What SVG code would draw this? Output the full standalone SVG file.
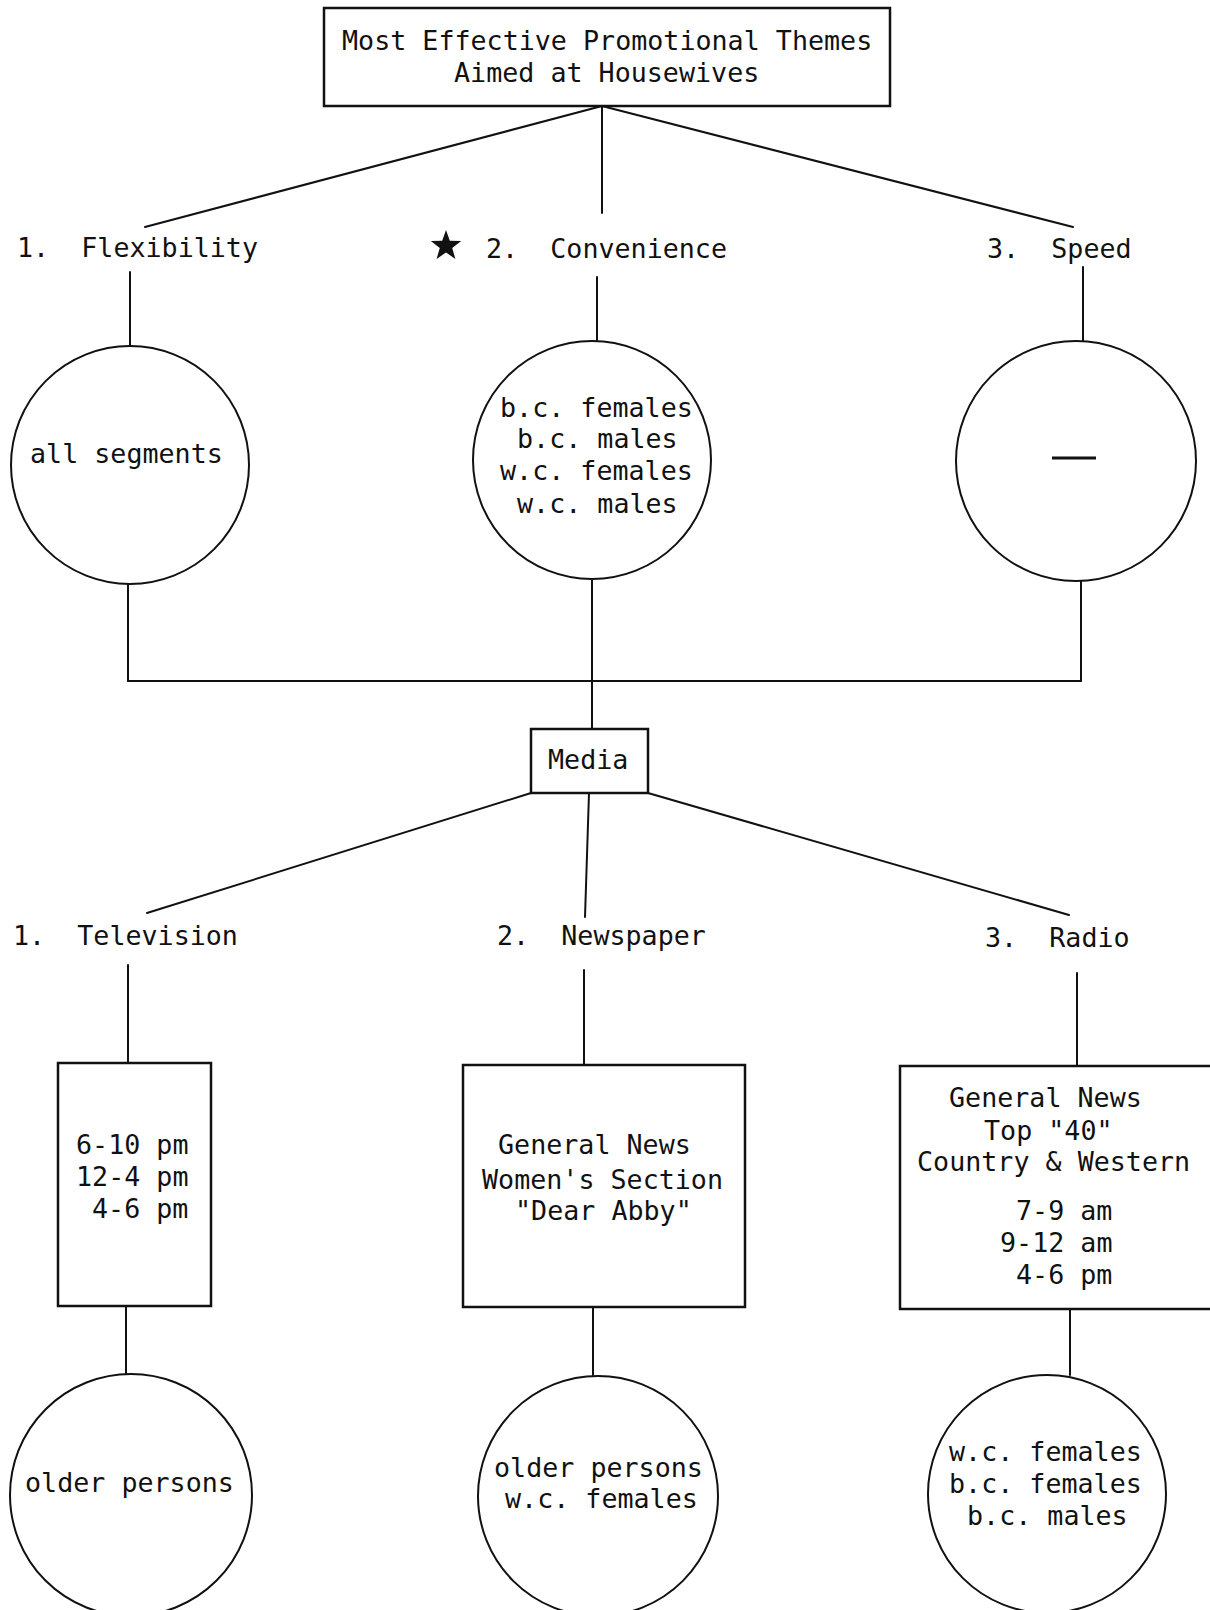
<svg xmlns="http://www.w3.org/2000/svg" width="1210" height="1610" viewBox="0 0 1210 1610">
<style>
text{font-family:"DejaVu Sans Mono","Liberation Mono",monospace;font-size:26.7px;fill:#111;white-space:pre}
.ln{stroke:#111;stroke-width:2;fill:none;stroke-linecap:round}
.bx{stroke:#111;stroke-width:2.5;fill:#fff}
.cr{stroke:#111;stroke-width:2;fill:#fff}
</style>
<rect width="1210" height="1610" fill="#fff"/>
<g id="connectors">
<line class="ln" x1="602" y1="106" x2="145" y2="227"/>
<line class="ln" x1="602" y1="106" x2="602" y2="213"/>
<line class="ln" x1="602" y1="106" x2="1073" y2="227"/>
<line class="ln" x1="130" y1="272" x2="130" y2="347"/>
<line class="ln" x1="597" y1="277" x2="597" y2="341"/>
<line class="ln" x1="1083" y1="267" x2="1083" y2="341"/>
<line class="ln" x1="128" y1="584" x2="128" y2="681"/>
<line class="ln" x1="592" y1="579" x2="592" y2="729"/>
<line class="ln" x1="1081" y1="581" x2="1081" y2="681"/>
<line class="ln" x1="128" y1="681" x2="1081" y2="681"/>
<line class="ln" x1="531" y1="793" x2="147" y2="913"/>
<line class="ln" x1="589" y1="793" x2="585" y2="917"/>
<line class="ln" x1="648" y1="793" x2="1069" y2="915"/>
<line class="ln" x1="128" y1="965" x2="128" y2="1063"/>
<line class="ln" x1="584" y1="970" x2="584" y2="1065"/>
<line class="ln" x1="1077" y1="973" x2="1077" y2="1066"/>
<line class="ln" x1="126" y1="1306" x2="126" y2="1374"/>
<line class="ln" x1="593" y1="1307" x2="593" y2="1375"/>
<line class="ln" x1="1070" y1="1309" x2="1070" y2="1375"/>
</g>
<g id="title">
<rect class="bx" x="324" y="8" width="566" height="98"/>
<text x="342" y="50">Most Effective Promotional Themes</text>
<text x="454" y="82">Aimed at Housewives</text>
</g>
<g id="theme1">
<text x="17" y="257">1.  Flexibility</text>
</g>
<g id="theme2">
<polygon fill="#111" points="446,230 449.8,240.7 461.2,241.1 452.2,248 455.4,258.9 446,252.5 436.6,258.9 439.8,248 430.8,241.1 442.2,240.7"/>
<text x="486" y="258">2.  Convenience</text>
</g>
<g id="theme3">
<text x="987" y="258">3.  Speed</text>
</g>
<g id="seg1">
<circle class="cr" cx="130" cy="465" r="119"/>
<text x="30" y="463">all segments</text>
</g>
<g id="seg2">
<circle class="cr" cx="592" cy="460" r="119"/>
<text x="500" y="417">b.c. females</text>
<text x="517" y="448">b.c. males</text>
<text x="500" y="480">w.c. females</text>
<text x="517" y="513">w.c. males</text>
</g>
<g id="seg3">
<circle class="cr" cx="1076" cy="461" r="120"/>
<line x1="1052" y1="458" x2="1096" y2="458" stroke="#111" stroke-width="3"/>
</g>
<g id="media">
<rect class="bx" x="531" y="729" width="117" height="64"/>
<text x="548" y="769">Media</text>
</g>
<g id="television">
<text x="13" y="945">1.  Television</text>
</g>
<g id="newspaper">
<text x="497" y="945">2.  Newspaper</text>
</g>
<g id="radio">
<text x="985" y="947">3.  Radio</text>
</g>
<g id="tv-times">
<rect class="bx" x="58" y="1063" width="153" height="243"/>
<text x="76" y="1154">6-10 pm</text>
<text x="76" y="1186">12-4 pm</text>
<text x="92" y="1218">4-6 pm</text>
</g>
<g id="news-sections">
<rect class="bx" x="463" y="1065" width="282" height="242"/>
<text x="498" y="1154">General News</text>
<text x="482" y="1189">Women's Section</text>
<text x="515" y="1220">"Dear Abby"</text>
</g>
<g id="radio-programs">
<rect class="bx" x="900" y="1066" width="320" height="243"/>
<text x="949" y="1107">General News</text>
<text x="984" y="1140">Top "40"</text>
<text x="917" y="1171">Country &amp; Western</text>
<text x="1016" y="1220">7-9 am</text>
<text x="1000" y="1252">9-12 am</text>
<text x="1016" y="1284">4-6 pm</text>
</g>
<g id="tv-audience">
<circle class="cr" cx="131" cy="1495" r="121"/>
<text x="25" y="1492">older persons</text>
</g>
<g id="news-audience">
<circle class="cr" cx="598" cy="1496" r="120"/>
<text x="494" y="1477">older persons</text>
<text x="505" y="1508">w.c. females</text>
</g>
<g id="radio-audience">
<circle class="cr" cx="1047" cy="1494" r="119"/>
<text x="949" y="1461">w.c. females</text>
<text x="949" y="1493">b.c. females</text>
<text x="967" y="1525">b.c. males</text>
</g>
</svg>
